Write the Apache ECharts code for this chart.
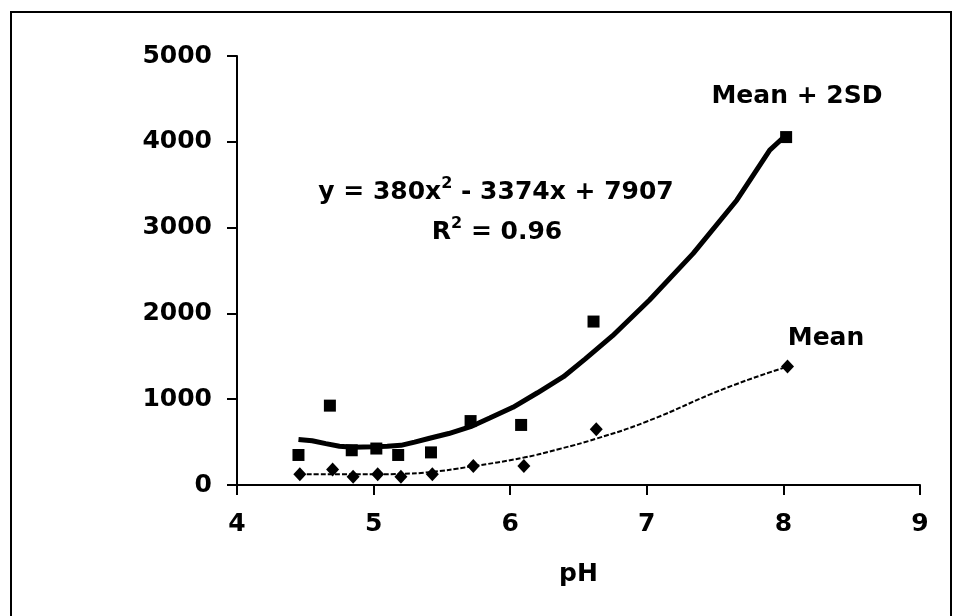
<!DOCTYPE html>
<html>
<head>
<meta charset="utf-8">
<script src="https://cdn.jsdelivr.net/npm/echarts@6/dist/echarts.min.js"></script>
<style>html,body{margin:0;padding:0;background:#fff}#c{width:955px;height:616px}</style>
</head>
<body>
<div id="c"></div>
<script>
// Observed points: Mean + 2SD (squares)
var sdPoints = [[4.45,350],[4.68,925],[4.84,405],[5.02,425],[5.18,350],[5.42,380],[5.71,745],[6.08,700],[6.61,1905],[8.02,4055]];
// Observed points: Mean (diamonds)
var meanPoints = [[4.46,125],[4.70,180],[4.85,95],[5.03,125],[5.20,95],[5.43,125],[5.73,220],[6.10,220],[6.63,650],[8.03,1380]];
// Trend line: Mean + 2SD (solid)
var sdTrend = [[4.45,530],[4.55,515],[4.65,482],[4.75,452],[4.85,440],[5.0,445],[5.1,452],[5.2,462],[5.3,500],[5.41,545],[5.55,600],[5.71,680],[5.85,780],[6.02,905],[6.2,1075],[6.39,1262],[6.55,1470],[6.75,1740],[7.02,2156],[7.34,2700],[7.66,3322],[7.9,3904],[8.02,4079]];
// Trend line: Mean (dashed)
var meanTrend = [[4.46,125],[4.7,125],[5.0,125],[5.2,130],[5.41,150],[5.71,215],[6.1,320],[6.36,420],[6.63,540],[7.0,740],[7.58,1130],[8.03,1380]];
var xTicks = {min:4, max:9, interval:1};
var yTicks = {min:0, max:5000, interval:1000};

var FONT = "'DejaVu Sans', sans-serif";
var FS = 25;
var chart = echarts.init(document.getElementById('c'));
function axisCommon(margin){
  return {
    axisLine:{show:true, lineStyle:{color:'#000', width:2}},
    axisTick:{show:true, inside:false, length:10, lineStyle:{color:'#000', width:2}},
    splitLine:{show:false},
    axisLabel:{color:'#000', fontFamily:FONT, fontWeight:'bold', fontSize:FS, margin:margin,
      formatter:function(v){return String(v);}}
  };
}
chart.setOption({
  animation:false,
  backgroundColor:'#fff',
  grid:{left:237, right:35, top:56, bottom:131, containLabel:false},
  xAxis:Object.assign({type:'value', min:xTicks.min, max:xTicks.max, interval:xTicks.interval,
    name:'pH', nameLocation:'middle', nameGap:77,
    nameTextStyle:{color:'#000', fontFamily:FONT, fontWeight:'bold', fontSize:FS}}, axisCommon(27)),
  yAxis:Object.assign({type:'value', min:yTicks.min, max:yTicks.max, interval:yTicks.interval}, axisCommon(25)),
  series:[
    {type:'line', data:sdTrend, showSymbol:false, smooth:false, lineStyle:{color:'#000', width:5}, z:2},
    {type:'line', data:meanTrend, showSymbol:false, smooth:true, lineStyle:{color:'#000', width:2, type:[5,2]}, z:2},
    {type:'scatter', data:sdPoints, symbol:'rect', symbolSize:12, itemStyle:{color:'#000', opacity:1}, z:3},
    {type:'scatter', data:meanPoints, symbol:'diamond', symbolSize:[13,14], itemStyle:{color:'#000', opacity:1}, z:3}
  ],
  graphic:[
    {type:'rect', shape:{x:11, y:12, width:940, height:640}, style:{fill:null, stroke:'#000', lineWidth:2}, silent:true},
    {type:'text', x:496, y:192, style:{
      text:'{a|y = 380x}{s|2}{a| - 3374x + 7907}', align:'center', verticalAlign:'middle',
      rich:{a:{fontFamily:FONT, fontWeight:'bold', fontSize:FS, fill:'#000'},
            s:{fontFamily:FONT, fontWeight:'bold', fontSize:16, fill:'#000', padding:[0,0,16,0]}}}},
    {type:'text', x:497, y:232, style:{
      text:'{a|R}{s|2}{a| = 0.96}', align:'center', verticalAlign:'middle',
      rich:{a:{fontFamily:FONT, fontWeight:'bold', fontSize:FS, fill:'#000'},
            s:{fontFamily:FONT, fontWeight:'bold', fontSize:16, fill:'#000', padding:[0,0,16,0]}}}},
    {type:'text', x:797, y:96, style:{text:'Mean + 2SD', align:'center', verticalAlign:'middle',
      fontFamily:FONT, fontWeight:'bold', fontSize:FS, fill:'#000'}},
    {type:'text', x:826, y:338, style:{text:'Mean', align:'center', verticalAlign:'middle',
      fontFamily:FONT, fontWeight:'bold', fontSize:FS, fill:'#000'}}
  ]
});
</script>
</body>
</html>
